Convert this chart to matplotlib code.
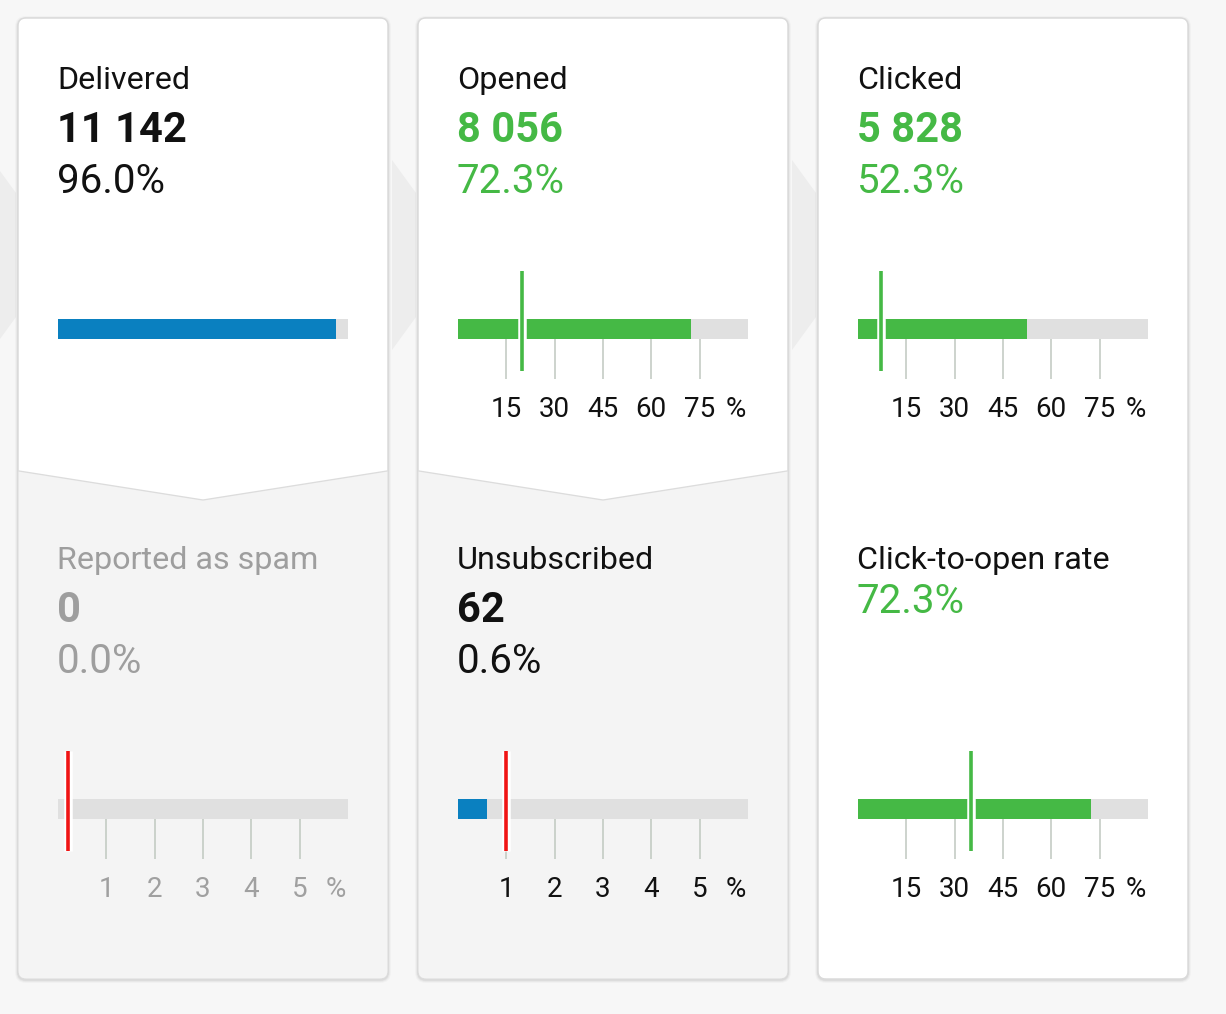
import matplotlib
matplotlib.use('Agg')
import matplotlib.pyplot as plt
from matplotlib.patches import FancyBboxPatch, Polygon
import matplotlib.patheffects as pe

# ---------------- data ----------------
titles = ['Delivered', 'Opened', 'Clicked',
          'Reported as spam', 'Unsubscribed', 'Click-to-open rate']
counts = [11142, 8056, 5828, 0, 62, None]
rates = [96.0, 72.3, 52.3, 0.0, 0.6, 72.3]
benchmarks = [None, 20.0, 7.0, 0.2, 1.0, 35.0]
axis_max = [100, 90, 90, 6, 6, 90]
pct_ticks = [15, 30, 45, 60, 75]
pct_tick_labels = ['15', '30', '45', '60', '75']
small_ticks = [1, 2, 3, 4, 5]
small_tick_labels = ['1', '2', '3', '4', '5']
tick_sets = [None, (pct_ticks, pct_tick_labels), (pct_ticks, pct_tick_labels),
             (small_ticks, small_tick_labels), (small_ticks, small_tick_labels),
             (pct_ticks, pct_tick_labels)]

# ---------------- styles ----------------
GREEN = '#45b945'
BLUE = '#0a80c0'
RED = '#f01414'
BLACK = '#111111'
GRAY = '#9e9e9e'
TRACK = '#e0e0e0'
TICK = '#c2cac2'

title_colors = [BLACK, BLACK, BLACK, GRAY, BLACK, BLACK]
value_colors = [BLACK, GREEN, GREEN, GRAY, BLACK, GREEN]
bar_colors = [BLUE, GREEN, GREEN, BLUE, BLUE, GREEN]
marker_colors = [None, GREEN, GREEN, RED, RED, GREEN]
ticklabel_colors = [BLACK, BLACK, BLACK, '#a0a0a0', BLACK, BLACK]

plt.rcParams['font.family'] = ['Roboto', 'DejaVu Sans']

W, H, DPI = 1226, 1014, 100
PX = 72.0 / DPI

fig = plt.figure(figsize=(W / DPI, H / DPI), dpi=DPI, facecolor='#f7f7f7')
bg = fig.add_axes([0, 0, 1, 1])
bg.set_xlim(0, W)
bg.set_ylim(H, 0)
bg.axis('off')

card_x = [18, 418, 818]
card_w = 370
card_top, card_bot = 18, 979

# arrow-like shapes in the gaps
for cx in card_x:
    bg.add_patch(Polygon([(cx - 26, 160), (cx - 2, 193), (cx - 2, 317), (cx - 26, 350)],
                         closed=True, facecolor='#ededed', edgecolor='none', zorder=0.5))

for c, cx in enumerate(card_x):
    # soft shadow
    for k, a in [(3, 0.025), (2, 0.035), (1, 0.05)]:
        bg.add_patch(FancyBboxPatch((cx - k, card_top - k + 1), card_w + 2 * k, card_bot - card_top + 2 * k,
                                    boxstyle='round,pad=0,rounding_size=%d' % (8 + k),
                                    facecolor='black', edgecolor='none', alpha=a, zorder=1))
    card = FancyBboxPatch((cx, card_top), card_w, card_bot - card_top,
                          boxstyle='round,pad=0,rounding_size=8',
                          facecolor='white', edgecolor='#dadada', linewidth=0.7, zorder=2)
    bg.add_patch(card)
    if c < 2:
        mid = cx + card_w / 2
        lower = Polygon([(cx, 471), (mid, 500), (cx + card_w, 471),
                         (cx + card_w, card_bot + 5), (cx, card_bot + 5)],
                        closed=True, facecolor='#f4f4f4', edgecolor='none', zorder=3)
        bg.add_patch(lower)
        lower.set_clip_path(card)
        bg.plot([cx + 1, mid, cx + card_w - 1], [471, 500, 471], color='#dcdcdc', lw=1.3 * PX, zorder=4)
    # redraw card outline on top
    bg.add_patch(FancyBboxPatch((cx, card_top), card_w, card_bot - card_top,
                                boxstyle='round,pad=0,rounding_size=8',
                                facecolor='none', edgecolor='#dadada', linewidth=0.7, zorder=5))


def fmt_count(n):
    return f"{n:,}".replace(',', ' ')


for i in range(6):
    col, row = i % 3, i // 3
    tx = card_x[col] + 39
    base = 89 + 480 * row
    bg.text(tx, base, titles[i], fontsize=23.2, color=title_colors[i], va='baseline', ha='left', zorder=6)
    if counts[i] is not None:
        bg.text(tx, base + 53, fmt_count(counts[i]), fontsize=30, fontweight='bold',
                color=value_colors[i], va='baseline', ha='left', zorder=6)
        bg.text(tx, base + 104, f"{rates[i]:.1f}%", fontsize=29, color=value_colors[i],
                va='baseline', ha='left', zorder=6)
    else:
        bg.text(tx, base + 44, f"{rates[i]:.1f}%", fontsize=29, color=value_colors[i],
                va='baseline', ha='left', zorder=6)

    # gauge axes
    x0 = card_x[col] + 40
    ybar = 319 + 480 * row
    top, bottom = ybar - 48, ybar + 60
    ax = fig.add_axes([x0 / W, 1 - bottom / H, 290 / W, (bottom - top) / H])
    ax.set_xlim(0, axis_max[i])
    ax.set_ylim(bottom - top, 0)
    ax.patch.set_alpha(0)
    for s in ax.spines.values():
        s.set_visible(False)
    ax.barh(58, axis_max[i], height=20, color=TRACK, zorder=1)
    if rates[i] > 0:
        ax.barh(58, rates[i], height=20, color=bar_colors[i], zorder=2)
    if benchmarks[i] is not None:
        lc = ax.vlines(benchmarks[i], 0, 100, colors=marker_colors[i], lw=3.6 * PX, zorder=5)
        lc.set_capstyle('butt')
        lc.set_path_effects([pe.withStroke(linewidth=8.5 * PX, foreground='white', capstyle='butt')])
    ax.tick_params(axis='y', left=False, labelleft=False)
    if tick_sets[i] is None:
        ax.set_xticks([])
    else:
        tks, tlb = tick_sets[i]
        ax.set_xticks(tks, tlb)
        ax.set_xticks([axis_max[i] * 0.958], ['%'], minor=True)
        ax.tick_params(axis='x', which='major', direction='in', length=40 * PX, width=1.6 * PX,
                       color=TICK, pad=12.5, labelsize=20, labelcolor=ticklabel_colors[i])
        ax.tick_params(axis='x', which='minor', direction='in', length=0, pad=12.5,
                       labelsize=20, labelcolor=ticklabel_colors[i])

fig.savefig('out.png', dpi=DPI, facecolor=fig.get_facecolor())
